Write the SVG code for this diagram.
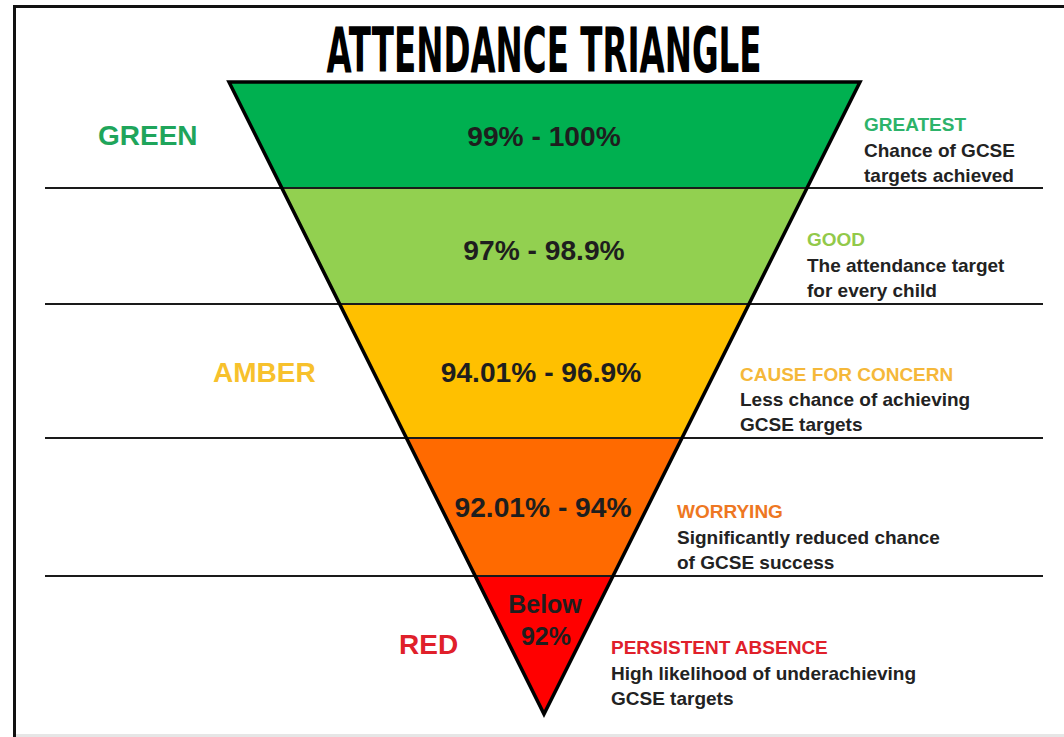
<svg xmlns="http://www.w3.org/2000/svg" width="1064" height="737" viewBox="0 0 1064 737">
<style>
text{font-family:"Liberation Sans",Arial,sans-serif;font-weight:bold}
.title{font-family:"Liberation Sans Narrow","DejaVu Sans Condensed","Liberation Sans",sans-serif;font-size:62px;fill:#000}
.side{font-size:28px}
.pct{font-size:28.2px;fill:#1e1e1e;text-anchor:middle}
.small{font-size:25px}
.head{font-size:19px}
.desc{font-size:19px;fill:#222}
.band{stroke:none}
.sep{stroke:#1a1a1a;stroke-width:2}
</style>
<rect x="0" y="0" width="1064" height="737" fill="#fff"/>
<rect x="14.5" y="6.5" width="1070" height="740" fill="none" stroke="#111" stroke-width="3"/>
<rect x="16" y="734" width="1048" height="3" fill="#e6e6e6"/>
<text class="title" x="544" y="72" text-anchor="middle" textLength="435" lengthAdjust="spacingAndGlyphs">ATTENDANCE TRIANGLE</text>

<g id="band-green">
<polygon class="band" points="229,82 860,82 807,188 282,188" fill="#00b050"/>
<text class="pct" x="544" y="146">99% - 100%</text>
<text class="side" x="98" y="145" fill="#1fa55b">GREEN</text>
<text class="head" x="864" y="131" fill="#2db36a">GREATEST</text>
<text class="desc" x="864" y="157">Chance of GCSE</text>
<text class="desc" x="864" y="182">targets achieved</text>
</g>
<g id="band-lightgreen">
<polygon class="band" points="282,188 807,188 749,304 340,304" fill="#92d050"/>
<text class="pct" x="544" y="260">97% - 98.9%</text>
<text class="head" x="807" y="246" fill="#92c94a">GOOD</text>
<text class="desc" x="807" y="272">The attendance target</text>
<text class="desc" x="807" y="297">for every child</text>
</g>
<g id="band-amber">
<polygon class="band" points="340,304 749,304 682,438 406,438" fill="#ffc000"/>
<text class="pct" x="541" y="382">94.01% - 96.9%</text>
<text class="side" x="213" y="382" fill="#f7c12c">AMBER</text>
<text class="head" x="740" y="381" fill="#f5b83a">CAUSE FOR CONCERN</text>
<text class="desc" x="740" y="406">Less chance of achieving</text>
<text class="desc" x="740" y="431">GCSE targets</text>
</g>
<g id="band-orange">
<polygon class="band" points="406,438 682,438 613,576 475,576" fill="#ff6a00"/>
<text class="pct" x="543" y="517">92.01% - 94%</text>
<text class="head" x="677" y="518" fill="#ee7722">WORRYING</text>
<text class="desc" x="677" y="544">Significantly reduced chance</text>
<text class="desc" x="677" y="569">of GCSE success</text>
</g>
<g id="band-red">
<polygon class="band" points="475,576 613,576 544,714" fill="#ff0000"/>
<text class="pct small" x="545" y="613">Below</text>
<text class="pct small" x="546" y="645">92%</text>
<text class="side" x="399" y="654" fill="#e0202a">RED</text>
<text class="head" x="611" y="654" fill="#e0202a">PERSISTENT ABSENCE</text>
<text class="desc" x="611" y="680">High likelihood of underachieving</text>
<text class="desc" x="611" y="705">GCSE targets</text>
</g>

<g id="separators">
<line class="sep" x1="45" y1="188" x2="1043" y2="188"/>
<line class="sep" x1="45" y1="304" x2="1043" y2="304"/>
<line class="sep" x1="45" y1="438" x2="1043" y2="438"/>
<line class="sep" x1="45" y1="576" x2="1043" y2="576"/>
</g>
<polygon id="triangle-outline" points="229,82 860,82 544,714" fill="none" stroke="#000" stroke-width="3.5" stroke-linejoin="miter" stroke-miterlimit="10"/>
</svg>
